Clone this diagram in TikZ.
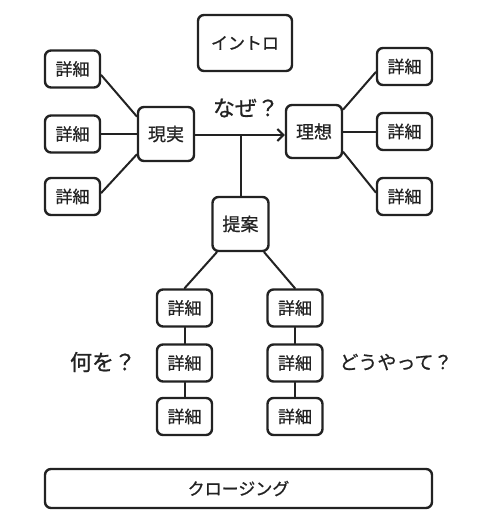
\documentclass[tikz,border=0pt]{standalone}
\usepackage{fontspec}
\setmainfont{Noto Sans CJK JP}[FakeBold=0.8]
\usetikzlibrary{arrows.meta,calc}
\definecolor{ink}{HTML}{222222}
\tikzset{
  box/.style={draw=ink, line width=2.4pt, rounded corners=6pt, inner sep=0pt, text=ink, font=\fontsize{17}{17}\selectfont},
  detail/.style={box, minimum width=55pt, minimum height=37pt},
  mainbox/.style={box, minimum width=56pt, minimum height=54pt, font=\fontsize{18}{18}\selectfont},
  link/.style={draw=ink, line width=2pt, line cap=round},
  label/.style={text=ink, inner sep=0pt, font=\fontsize{22}{22}\selectfont}
}
\begin{document}
\begin{tikzpicture}[x=1pt,y=-1pt]
\useasboundingbox (0,0) rectangle (490,519);
% intro
\node[box, minimum width=94pt, minimum height=56pt] (intro) at (245,43) {イントロ};
% main
\node[mainbox] (gen) at (166,134) {現実};
\node[mainbox, minimum height=53pt] (ris) at (314,131.5) {理想};
\node[mainbox] (tei) at (240.5,224) {提案};
% left details
\node[detail] (l1) at (72.5,69) {詳細};
\node[detail] (l2) at (72.5,134) {詳細};
\node[detail] (l3) at (72.5,196.5) {詳細};
% right details
\node[detail] (r1) at (404.5,66.5) {詳細};
\node[detail] (r2) at (404.5,131.5) {詳細};
\node[detail] (r3) at (404.5,196.5) {詳細};
% lower columns
\node[detail] (a1) at (184.5,308) {詳細};
\node[detail] (a2) at (184.5,363) {詳細};
\node[detail] (a3) at (184.5,416.5) {詳細};
\node[detail] (b1) at (295,308) {詳細};
\node[detail] (b2) at (295,363) {詳細};
\node[detail] (b3) at (295,416.5) {詳細};
% closing
\node[box, minimum width=387pt, minimum height=39pt] (clo) at (238.5,488.5) {クロージング};
% labels
\node[label] (naze) at (246,108) {なぜ？};
\node[label] (nani) at (103,362) {何を？};
\node[label, font=\fontsize{19}{19}\selectfont] (dou) at (396,362) {どうやって？};
% connectors
\draw[link] (gen.149) -- (l1.348);
\draw[link] (gen.west) -- (l2.east);
\draw[link] (gen.215) -- (l3.7);
\draw[link] (ris.37) -- (r1.191);
\draw[link] (ris.east) -- (r2.west);
\draw[link] (ris.-35) -- (r3.172);
\draw[link, -{Straight Barb[length=6pt,width=12pt,line width=2pt]}] ([yshift=-1pt]gen.east) -- ([yshift=-1pt]gen.east -| ris.west);
\coordinate (jn) at ([yshift=-1pt]tei.north |- gen.east);
\draw[link] (jn) -- (tei.north);
\draw[link] (tei.230) -- (a1.north);
\draw[link] (tei.310) -- (b1.north);
\draw[link] (a1.south) -- (a2.north);
\draw[link] (a2.south) -- (a3.north);
\draw[link] (b1.south) -- (b2.north);
\draw[link] (b2.south) -- (b3.north);
\end{tikzpicture}
\end{document}
